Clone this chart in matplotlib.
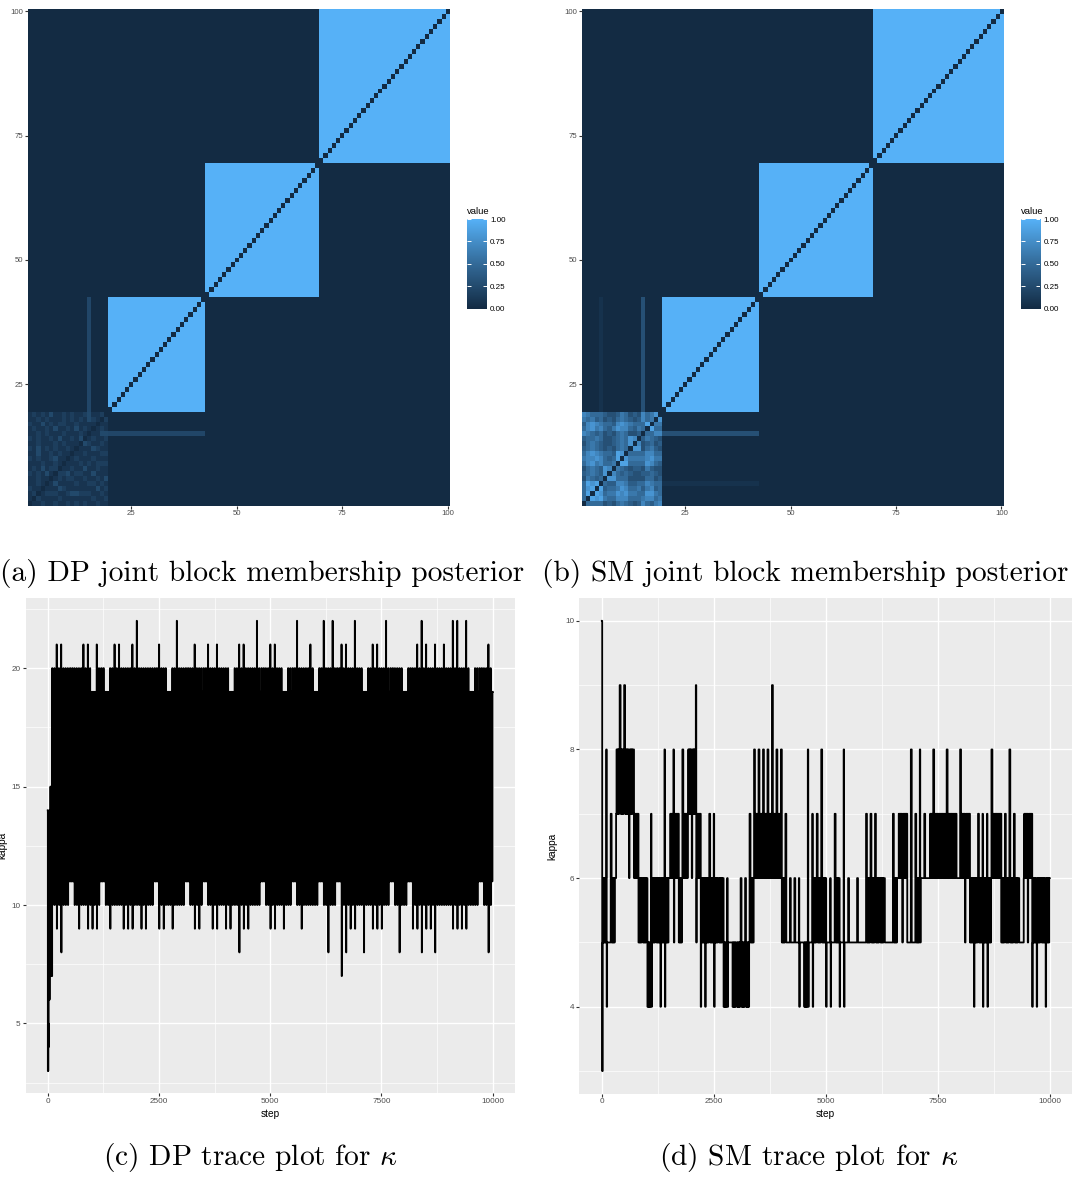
import numpy as np
import matplotlib
matplotlib.use('Agg')
import matplotlib.pyplot as plt
from matplotlib.colors import LinearSegmentedColormap
from matplotlib.ticker import FixedLocator

# ---------------- joint block membership posterior ----------------
n_items = 100
block_first = [1, 20, 43, 70]
block_last = [19, 42, 69, 100]
heat_ticks = [25, 50, 75, 100]
legend_breaks = [0.0, 0.25, 0.5, 0.75, 1.0]
legend_labels = ['0.00', '0.25', '0.50', '0.75', '1.00']

# first block, lower triangle (row k holds item k+2 against items 1..k+1),
# one digit per cell in units of *_unit
dp_unit = 0.08
dp_block1 = [
    "1", "12", "211", "1121", "11211", "212131", "1213122", "11121121",
    "212112311", "1131121211", "21312121121", "112111212111",
    "2121121311213", "11212111211121", "121121311213121",
    "2113121221121111", "11212111212121321", "121213112121123112",
]
sm_unit = 0.1
sm_block1 = [
    "5", "59", "589", "5989", "36545", "456548", "3565487", "57867556",
    "677875459", "5787655498", "45654343565", "356543345658",
    "4556533456587", "76545343565334", "578675468775465",
    "4787655478765559", "65645343565434756", "765554334653437568",
]
# (item, first, last, value): items that sometimes join the second block
dp_stripes = [(15, 20, 42, 0.22)]
sm_stripes = [(15, 20, 42, 0.30), (5, 20, 42, 0.06)]

# ---------------- kappa traces ----------------
n_steps = 10000
dp_burn_step = [1, 3, 6, 10, 14, 18, 22, 26, 30, 34, 38, 42, 46, 50, 55, 60,
                65, 70, 75, 80, 85, 90, 95]
dp_burn_val = [14, 3, 5, 3, 5, 4, 6, 13, 6, 14, 6, 13, 7, 14, 7, 15,
               7, 13, 7, 14, 12, 15, 7]
dp_core_lo, dp_core_hi = 11, 19
# levels the DP chain touches over and over just outside its core
dp_edge_lo, dp_edge_hi = 10, 20
# per 100-step bin from step 100 on: highest and lowest kappa
dp_hi = [20, 21, 21, 20, 20, 20, 20, 21, 21, 19,
         21, 20, 19, 20, 21, 21, 20, 20, 21, 22,
         20, 20, 20, 20, 21, 20, 19, 20, 22, 20,
         20, 20, 21, 20, 20, 21, 20, 21, 20, 20,
         19, 20, 21, 21, 20, 20, 22, 20, 20, 21,
         21, 20, 19, 20, 20, 22, 20, 20, 21, 19,
         20, 22, 20, 22, 20, 21, 21, 20, 22, 20,
         19, 20, 21, 21, 20, 22, 20, 20, 20, 19,
         20, 20, 21, 22, 21, 20, 21, 20, 21, 20,
         22, 22, 20, 22, 19, 20, 20, 20, 21]
dp_lo = [10, 9, 8, 10, 11, 10, 9, 10, 9, 9,
         9, 11, 10, 9, 10, 10, 9, 9, 9, 10,
         9, 9, 10, 11, 9, 9, 10, 9, 10, 10,
         11, 10, 9, 9, 11, 10, 9, 9, 10, 9,
         9, 10, 8, 9, 9, 10, 10, 11, 10, 9,
         9, 10, 9, 10, 11, 10, 9, 10, 10, 10,
         11, 10, 8, 10, 11, 7, 8, 9, 9, 10,
         8, 10, 9, 9, 9, 10, 11, 10, 8, 10,
         11, 9, 9, 8, 9, 9, 8, 10, 10, 10,
         9, 9, 9, 9, 10, 10, 11, 10, 8]

# per 100-step bin: level range the chain keeps switching within, plus extremes
sm_band_lo = ("5557777655" "4555566567" "7655555454" "4445666666" "5555545555"
              "5555555555" "5555556655" "5666666666" "6655555665" "5555665555")
sm_band_hi = ("6568888766" "5666677678" "8766666555" "5556777777" "6555555666"
              "5565555556" "6665567755" "6667777776" "7766666776" "6665776666")
sm_max = [10, 8, 7, 8, 9, 9, 8, 8, 7, 6,
          6, 7, 6, 6, 8, 7, 8, 7, 8, 8,
          8, 9, 6, 6, 7, 7, 6, 5, 6, 5,
          5, 6, 6, 7, 8, 8, 8, 8, 9, 8,
          8, 7, 6, 6, 6, 5, 8, 7, 7, 8,
          6, 6, 7, 6, 8, 6, 5, 6, 5, 7,
          7, 7, 6, 5, 5, 7, 7, 7, 5, 8,
          7, 8, 7, 7, 8, 7, 7, 8, 7, 7,
          8, 7, 6, 6, 7, 7, 7, 8, 7, 7,
          7, 8, 7, 6, 7, 7, 6, 6, 6, 6]
sm_min = [3, 4, 5, 6, 7, 7, 6, 6, 5, 5,
          4, 4, 5, 4, 4, 6, 5, 5, 6, 6,
          6, 5, 4, 4, 5, 4, 5, 4, 4, 4,
          4, 4, 4, 5, 6, 6, 6, 6, 6, 6,
          5, 5, 5, 5, 4, 4, 4, 4, 5, 5,
          4, 4, 5, 4, 4, 5, 5, 5, 5, 5,
          5, 5, 5, 5, 5, 5, 6, 5, 5, 5,
          5, 5, 6, 6, 6, 6, 6, 6, 6, 6,
          6, 5, 5, 4, 5, 4, 4, 6, 6, 5,
          5, 5, 5, 5, 5, 5, 4, 4, 5, 4]

captions = ["(a) DP joint block membership posterior",
            "(b) SM joint block membership posterior",
            r"(c) DP trace plot for $\kappa$",
            r"(d) SM trace plot for $\kappa$"]

plt.rcParams['font.family'] = ['Liberation Sans', 'DejaVu Sans']
plt.rcParams['mathtext.fontset'] = 'cm'

W, H = 1073, 1178
fig = plt.figure(figsize=(W / 100, H / 100), dpi=100)


def px_axes(x0, y0, x1, y1):
    return fig.add_axes([x0 / W, 1 - y1 / H, (x1 - x0) / W, (y1 - y0) / H])


def build_posterior(low_tri, unit, stripes):
    P = np.zeros((n_items, n_items))
    for s, e in zip(block_first[1:], block_last[1:]):
        P[s - 1:e, s - 1:e] = 1.0
    for i, row in enumerate(low_tri):
        for j, ch in enumerate(row):
            P[i + 1, j] = P[j, i + 1] = int(ch) * unit
    for item, s, e, v in stripes:
        P[item - 1, s - 1:e] = v
        P[s - 1:e, item - 1] = v
    np.fill_diagonal(P, 0)
    return P


gg_blue = LinearSegmentedColormap.from_list(
    'gg_blue', [(0, '#132B43'), (0.5, '#336A98'), (1, '#56B1F7')])
axis_grey = '#4D4D4D'
tick_grey = '#333333'


def heatmap(box, cbox, P):
    ax = px_axes(*box)
    ax.imshow(P, origin='lower', extent=(0.5, n_items + 0.5, 0.5, n_items + 0.5),
              aspect='auto', interpolation='nearest', cmap=gg_blue, vmin=0, vmax=1)
    ax.set_xticks(heat_ticks)
    ax.set_yticks(heat_ticks)
    ax.tick_params(length=2.2, width=0.8, color=tick_grey, labelsize=5.6,
                   labelcolor=axis_grey, pad=1.2)
    for s in ax.spines.values():
        s.set_visible(False)

    cax = px_axes(*cbox)
    grad = np.linspace(0, 1, 300).reshape(-1, 1)
    cax.imshow(grad, origin='lower', extent=(0, 1, 0, 1), aspect='auto',
               cmap=gg_blue, vmin=0, vmax=1)
    cax.set_xlim(0, 1)
    cax.set_ylim(-0.015, 1.015)
    cax.hlines(legend_breaks, 0, 0.2, color='white', lw=0.7)
    cax.hlines(legend_breaks, 0.8, 1, color='white', lw=0.7)
    cax.set_xticks([])
    cax.yaxis.tick_right()
    cax.set_yticks(legend_breaks)
    cax.set_yticklabels(legend_labels)
    cax.tick_params(axis='y', length=0, labelsize=5.8, labelcolor='black', pad=2.5)
    for s in cax.spines.values():
        s.set_visible(False)
    fig.text(cbox[0] / W, 1 - 213.5 / H, 'value', fontsize=6.8, ha='left',
             va='baseline')


def trace_path(x0, width, band_lo, band_hi, vmin, vmax, hold=0.1, n_zig=8,
               edge=None):
    # one pass per bin: touch the bin's extremes, then switch inside the band;
    # with edge given, a second pass touches the edge levels as well
    passes = 1 if edge is None else 2
    sub = width / passes
    xs, ys = [], []
    for k in range(len(band_lo)):
        lo, hi = int(band_lo[k]), int(band_hi[k])
        for p in range(passes):
            b = x0 + k * width + p * sub
            top, bot = vmax[k], vmin[k]
            if p == 1:
                top, bot = min(top, edge[1]), max(bot, edge[0])
            if top > hi:
                xs.append(b)
                ys.append(top)
            if bot < lo:
                xs.append(b + hold * sub)
                ys.append(bot)
            start = b + 2 * hold * sub
            if lo == hi:
                xs.append(start)
                ys.append(lo)
            else:
                step = (b + sub - start) / n_zig
                for z in range(n_zig):
                    xs.append(start + z * step)
                    ys.append(lo if z % 2 == 0 else hi)
    xs.append(n_steps)
    ys.append(ys[-1])
    return xs, ys


def trace(box, xs, ys, y_major, y_minor, label_x):
    ax = px_axes(*box)
    ax.set_facecolor('#EBEBEB')
    ax.plot(xs, ys, drawstyle='steps-post', color='black', lw=1.3)
    span = n_steps - 1
    ax.set_xlim(1 - 0.05 * span, n_steps + 0.05 * span)
    lo, hi = min(ys), max(ys)
    ax.set_ylim(lo - 0.05 * (hi - lo), hi + 0.05 * (hi - lo))
    ax.xaxis.set_major_locator(FixedLocator([0, 2500, 5000, 7500, 10000]))
    ax.xaxis.set_minor_locator(FixedLocator([1250, 3750, 6250, 8750]))
    ax.yaxis.set_major_locator(FixedLocator(y_major))
    ax.yaxis.set_minor_locator(FixedLocator(y_minor))
    ax.set_axisbelow(True)
    ax.grid(which='major', color='white', lw=1.0)
    ax.grid(which='minor', color='white', lw=0.5)
    ax.tick_params(which='major', length=2.2, width=0.8, color=tick_grey,
                   labelsize=5.9, labelcolor=axis_grey, pad=1.3)
    ax.tick_params(which='minor', length=0)
    for s in ax.spines.values():
        s.set_visible(False)
    x0, y0, x1, y1 = box
    fig.text((x0 + x1) / 2 / W, 1 - 1114 / H, 'step', fontsize=7.3,
             ha='center', va='center')
    fig.text(label_x / W, 1 - (y0 + y1) / 2 / H, 'kappa', fontsize=7.3,
             rotation=90, ha='center', va='center')


heatmap((28, 9, 450, 505.7), (467.3, 217.7, 486.7, 310),
        build_posterior(dp_block1, dp_unit, dp_stripes))
heatmap((582, 9, 1003.6, 505.7), (1020.9, 217.7, 1040.3, 310),
        build_posterior(sm_block1, sm_unit, sm_stripes))

# DP: burn-in then a wide band between the core levels
bx, by = trace_path(100, 100, [dp_core_lo] * len(dp_hi), [dp_core_hi] * len(dp_hi),
                    dp_lo, dp_hi, hold=0.1, n_zig=6,
                    edge=(dp_edge_lo, dp_edge_hi))
trace((25.5, 598.3, 515, 1093.3), dp_burn_step + bx, dp_burn_val + by,
      [5, 10, 15, 20], [2.5, 7.5, 12.5, 17.5, 22.5], 2)

sx, sy = trace_path(0, 100, sm_band_lo, sm_band_hi, sm_min, sm_max)
sx[0] = 1
trace((579.4, 598.3, 1072.1, 1093.6), sx, sy,
      [4, 6, 8, 10], [3, 5, 7, 9], 552)

cap_pos = [(262, 581.5), (805, 581.5), (251, 1165), (809, 1165)]
for (cx, cy), txt in zip(cap_pos, captions):
    fig.text(cx / W, 1 - cy / H, txt, fontsize=21.2, family='cmr10',
             ha='center', va='baseline')

fig.savefig('out.png', dpi=100, facecolor='white')
